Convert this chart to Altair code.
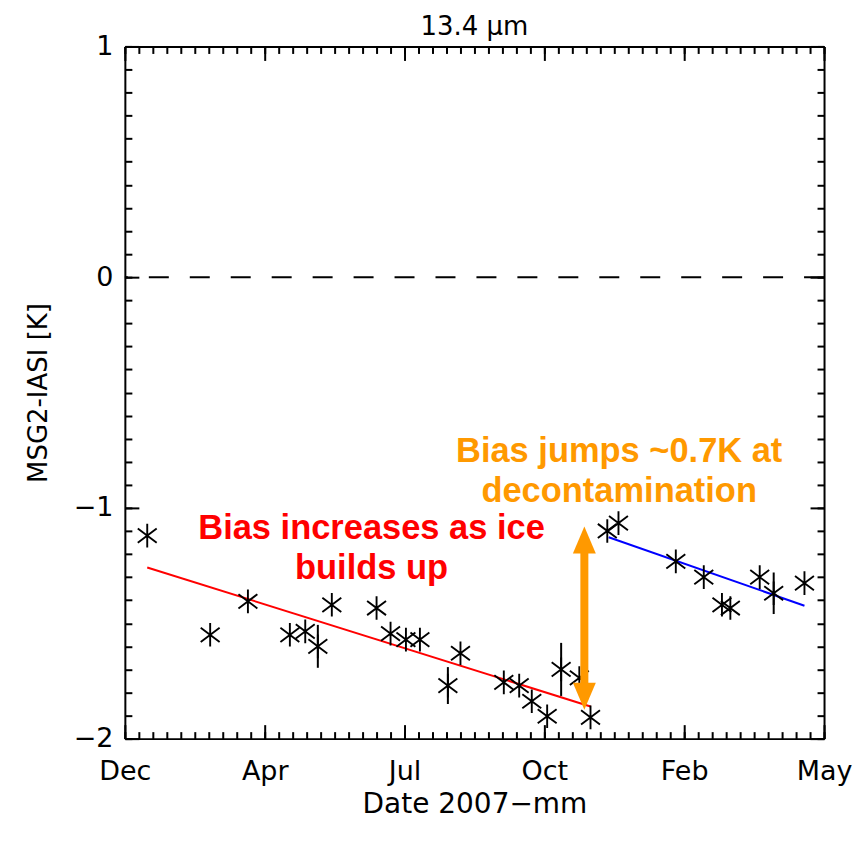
import json
import altair as alt
import pandas as pd
import numpy as np

# ---- data ----
days = [16, 61, 88, 118, 129, 138, 148, 180, 190, 201, 211, 231, 240, 271, 282,
        291, 302, 312, 325, 333, 345, 353, 394, 414, 427, 433, 454, 464, 486]
bias = [-1.12, -1.55, -1.405, -1.55, -1.535, -1.60, -1.42, -1.434, -1.545, -1.571,
        -1.571, -1.77, -1.63, -1.756, -1.77, -1.838, -1.903, -1.70, -1.737, -1.908,
        -1.10, -1.066, -1.232, -1.30, -1.42, -1.434, -1.30, -1.37, -1.326]
err = [0, 0, 0, 0, 0, 0.093, 0, 0, 0, 0, 0, 0.08, 0, 0, 0,
       0, 0, 0.115, 0, 0, 0, 0, 0, 0, 0, 0, 0, 0.09, 0]

red_days = [16, 333]
red_bias = [-1.258, -1.861]
blue_days = [346, 486]
blue_bias = [-1.127, -1.424]

tick_days = [0, 100, 200, 300, 400, 500]
tick_labels = ["Dec", "Apr", "Jul", "Oct", "Feb", "May"]
y_major = [-2, -1, 0, 1]
x_minor = list(range(0, 501, 10))
y_minor = [round(v, 1) for v in np.arange(-2.0, 1.001, 0.1)]

ann_text = ["Bias increases as ice", "builds up", "Bias jumps ~0.7K at", "decontamination"]
ann_day = [176.4, 176.4, 353.5, 353.5]
ann_y = [-1.134, -1.307, -0.801, -0.974]
ann_color = ["#FF0000", "#FF0000", "#FF9900", "#FF9900"]

arrow_day = [328.6]
arrow_top = [-1.139]
arrow_bottom = [-1.816]

W, H = 700, 693
FONT = "DejaVu Sans"
ORANGE = "#FF9900"

pts = pd.DataFrame({"day": days, "bias": bias, "err": err})
pts["lo"] = pts["bias"] - pts["err"]
pts["hi"] = pts["bias"] + pts["err"]

xscale = alt.Scale(domain=[0, 500], nice=False, zero=False)
yscale = alt.Scale(domain=[-2, 1], nice=False, zero=False)


def X(field="day", axis=None):
    return alt.X(f"{field}:Q", scale=xscale, axis=axis, title=None)


def Y(field="bias", axis=None):
    return alt.Y(f"{field}:Q", scale=yscale, axis=axis, title=None)


# zero line
zero = alt.Chart(pd.DataFrame({"bias": [0]})).mark_rule(
    strokeDash=[20, 21], strokeWidth=2, color="black"
).encode(y=Y())

red = alt.Chart(pd.DataFrame({"day": red_days, "bias": red_bias})).mark_line(
    color="#FF0000", strokeWidth=2
).encode(x=X(), y=Y())
blue = alt.Chart(pd.DataFrame({"day": blue_days, "bias": blue_bias})).mark_line(
    color="#0000FF", strokeWidth=2
).encode(x=X(), y=Y())

errbars = alt.Chart(pts).transform_filter("datum.err > 0").mark_rule(
    color="black", strokeWidth=2
).encode(x=X(), y=Y("lo"), y2="hi:Q")

asterisk = "M0,-1L0,1M-0.8,-0.6L0.8,0.6M-0.8,0.6L0.8,-0.6"
stars = alt.Chart(pts).mark_point(
    shape=asterisk, size=560, filled=False, stroke="black", strokeWidth=1.9, opacity=1
).encode(x=X(), y=Y())

arr_df = pd.DataFrame({"day": arrow_day, "top": arrow_top, "bottom": arrow_bottom})
shaft = alt.Chart(arr_df).mark_rule(color=ORANGE, strokeWidth=8).encode(
    x=X(), y=Y("top"), y2="bottom:Q"
)
head_up = alt.Chart(arr_df).mark_point(
    shape="M-0.85,1L0.85,1L0,-1Z", size=729, filled=True, color=ORANGE, opacity=1
).encode(x=X(), y=Y("top"))
head_down = alt.Chart(arr_df).mark_point(
    shape="M-0.85,-1L0.85,-1L0,1Z", size=729, filled=True, color=ORANGE, opacity=1
).encode(x=X(), y=Y("bottom"))

ann_df = pd.DataFrame({"text": ann_text, "day": ann_day, "bias": ann_y, "color": ann_color})
texts = alt.Chart(ann_df).mark_text(
    font="Liberation Sans", fontWeight="bold", fontSize=34.5, align="center", baseline="alphabetic"
).encode(x=X(), y=Y(), text="text:N", color=alt.Color("color:N", scale=None))

# ---- axes (inward ticks via offset axes) ----
base = alt.Chart(pts)

def axis_layer(xaxis=None, yaxis=None):
    return base.mark_point(opacity=0).encode(x=X(axis=xaxis), y=Y(axis=yaxis))

common = dict(grid=False, tickColor="black", tickWidth=2, domainColor="black", domainWidth=2)

label_expr = f"{json.dumps(tick_labels)}[indexof({json.dumps(tick_days)}, datum.value)]"

x_label_axis = alt.Axis(
    orient="bottom", values=tick_days, labelExpr=label_expr, ticks=False, tickSize=0,
    domain=True, labelFont=FONT, labelFontSize=27, labelColor="black", labelPadding=20,
    labelFlush=False,
    title="Date 2007\u2212mm", titleFont=FONT, titleFontSize=28, titleFontWeight="normal",
    titleColor="black", titlePadding=6, **common
)
y_label_axis = alt.Axis(
    orient="left", values=y_major, format="d", ticks=False, tickSize=0, domain=True,
    labelFont=FONT, labelFontSize=27, labelColor="black", labelPadding=12,
    labelFlush=False,
    title="MSG2-IASI [K]", titleFont=FONT, titleFontSize=26, titleFontWeight="normal",
    titleColor="black", titlePadding=22, **common
)

def tick_axis(orient, values, size, offset, domain=False):
    return alt.Axis(orient=orient, values=values, tickSize=size, offset=offset,
                    labels=False, domain=domain, title=None, **common)

axis_layers = [
    axis_layer(xaxis=x_label_axis),
    axis_layer(yaxis=y_label_axis),
    # bottom edge, ticks pointing up
    axis_layer(xaxis=tick_axis("top", tick_days, 14, -H)),
    axis_layer(xaxis=tick_axis("top", x_minor, 7, -H)),
    # top edge, ticks pointing down
    axis_layer(xaxis=tick_axis("bottom", tick_days, 14, -H, domain=True)),
    axis_layer(xaxis=tick_axis("bottom", x_minor, 7, -H)),
    # left edge, ticks pointing right
    axis_layer(yaxis=tick_axis("right", y_major, 14, -W)),
    axis_layer(yaxis=tick_axis("right", y_minor, 7, -W)),
    # right edge, ticks pointing left
    axis_layer(yaxis=tick_axis("left", y_major, 14, -W, domain=True)),
    axis_layer(yaxis=tick_axis("left", y_minor, 7, -W)),
]

chart = alt.layer(
    zero, red, blue, errbars, stars, shaft, head_up, head_down, texts, *axis_layers
).resolve_axis(x="independent", y="independent").properties(
    width=W, height=H,
    autosize=alt.AutoSizeParams(type="none"),
    padding={"left": 117, "top": 38, "right": 30, "bottom": 95},
    title=alt.TitleParams("13.4 \u00b5m", font=FONT, fontSize=26, fontWeight="normal",
                          color="black", offset=-8),
    background="white",
).configure_view(stroke=None)

chart.save("out.html", embed_options={"renderer": "svg", "actions": False})
